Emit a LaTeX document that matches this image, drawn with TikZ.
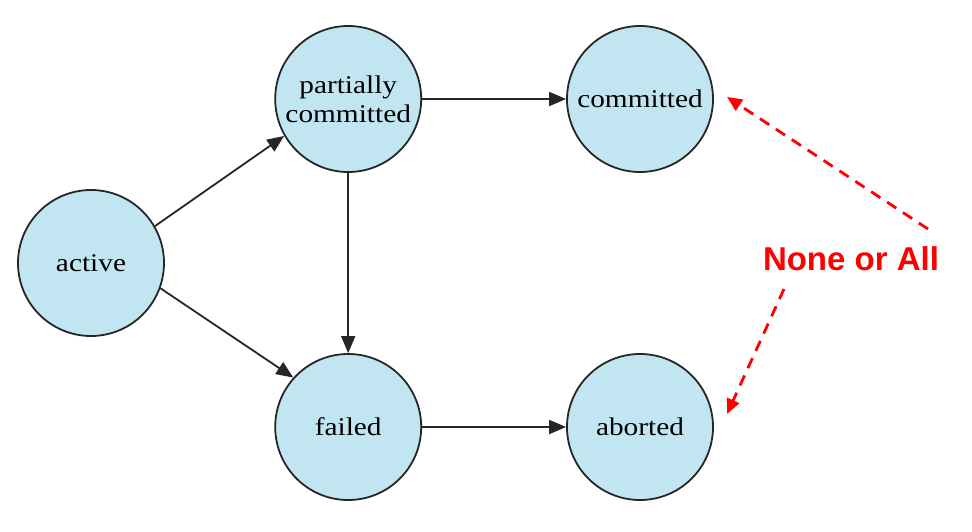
\documentclass[tikz,border=0pt]{standalone}
\usepackage{fontspec}
\setmainfont{Liberation Serif}
\newfontfamily\nodefont[FakeStretch=1.15]{Liberation Serif}
\newfontfamily\labelsans{Liberation Sans}
\usetikzlibrary{arrows.meta}
\definecolor{stfill}{HTML}{C2E6F1}
\definecolor{noneRed}{HTML}{FF0000}
\tikzset{
  state/.style={circle, draw=black!85, line width=1.8pt, fill=stfill, minimum size=146pt, inner sep=0pt, align=center, font=\nodefont\fontsize{25.5}{27}\selectfont},
  trans/.style={line width=1.8pt, draw=black!85, -{Triangle[length=17pt,width=14pt]}},
  redarr/.style={line width=2.8pt, draw=noneRed, dash pattern=on 11pt off 8pt, -{Triangle[length=15pt,width=13pt]}}
}
\begin{document}
\begin{tikzpicture}[x=1pt,y=-1pt]
\useasboundingbox (0,0) rectangle (972,532);
\node[state] (active) at (91,263) {active};
\node[state] (partial) at (348.2,99) {partially\\[2pt]committed};
\node[state] (committed) at (640,99) {committed};
\node[state] (failed) at (348.2,427) {failed};
\node[state] (aborted) at (640,427) {aborted};
\node[text=noneRed, font=\labelsans\bfseries\fontsize{33}{34}\selectfont, inner sep=0pt] (none) at (851,259) {None or All};
\coordinate (r1) at (928,229);
\coordinate (t1) at (727,97);
\coordinate (r2) at (784,289);
\coordinate (t2) at (727,414);
\draw[trans] (active.30) -- (partial.210);
\draw[trans] (active.-20) -- (failed.138);
\draw[trans] (partial) -- (committed);
\draw[trans] (partial) -- (failed);
\draw[trans] (failed) -- (aborted);
\draw[redarr] (r1) -- (t1);
\draw[redarr] (r2) -- (t2);
\end{tikzpicture}
\end{document}
